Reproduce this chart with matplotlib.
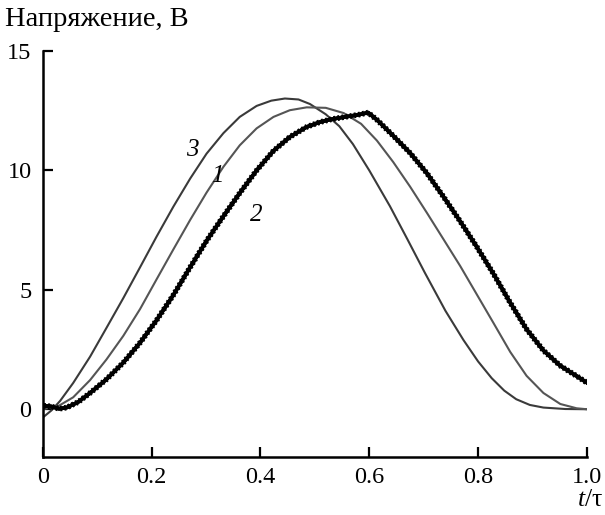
import matplotlib
matplotlib.use("Agg")
import matplotlib.pyplot as plt
import matplotlib.patheffects as pe

# ---- data ----
x3 = [0.0, 0.016, 0.032, 0.056, 0.087, 0.117, 0.148, 0.179, 0.209, 0.240, 0.271, 0.301,
      0.332, 0.362, 0.393, 0.420, 0.445, 0.470, 0.491, 0.520, 0.545, 0.570, 0.600,
      0.638, 0.670, 0.702, 0.740, 0.773, 0.800, 0.825, 0.848, 0.870, 0.895, 0.920, 0.960, 1.0]
y3 = [-0.35, -0.05, 0.35, 1.10, 2.20, 3.40, 4.65, 5.95, 7.22, 8.48, 9.66, 10.70,
      11.56, 12.24, 12.70, 12.92, 13.01, 12.97, 12.78, 12.35, 11.85, 11.10, 10.00,
      8.50, 7.12, 5.72, 4.12, 2.90, 2.00, 1.30, 0.78, 0.42, 0.18, 0.07, 0.01, 0.0]

x1 = [0.0, 0.030, 0.056, 0.087, 0.117, 0.148, 0.179, 0.209, 0.240, 0.271, 0.301,
      0.332, 0.362, 0.393, 0.424, 0.454, 0.485, 0.520, 0.553, 0.585, 0.614, 0.644,
      0.675, 0.706, 0.736, 0.767, 0.797, 0.828, 0.859, 0.889, 0.920, 0.951, 0.981, 1.0]
y1 = [0.0, 0.15, 0.50, 1.22, 2.08, 3.07, 4.20, 5.43, 6.69, 7.93, 9.07,
      10.15, 11.05, 11.76, 12.24, 12.52, 12.64, 12.62, 12.40, 11.95, 11.25, 10.35,
      9.32, 8.22, 7.13, 6.00, 4.83, 3.62, 2.40, 1.40, 0.68, 0.22, 0.04, 0.0]

x2 = [0.0, 0.015, 0.030, 0.044, 0.065, 0.087, 0.117, 0.148, 0.179, 0.209, 0.240,
      0.271, 0.301, 0.332, 0.362, 0.393, 0.424, 0.454, 0.485, 0.509, 0.530, 0.553, 0.580,
      0.598, 0.615, 0.644, 0.675, 0.706, 0.736, 0.767, 0.797, 0.828, 0.859, 0.889,
      0.920, 0.951, 0.981, 1.0]
y2 = [0.15, 0.12, 0.02, 0.07, 0.30, 0.68, 1.25, 1.95, 2.79, 3.72, 4.78,
      5.95, 7.05, 8.08, 9.05, 10.00, 10.82, 11.40, 11.82, 12.02, 12.14, 12.23, 12.33,
      12.42, 12.10, 11.45, 10.73, 9.88, 8.91, 7.87, 6.82, 5.68, 4.46, 3.35,
      2.46, 1.82, 1.39, 1.11]

curve_labels = ["3", "1", "2"]
label_x = [0.274, 0.320, 0.393]
label_y = [10.87, 9.75, 8.15]

xticks = [0, 0.2, 0.4, 0.6, 0.8, 1.0]
xticklabels = ["0", "0.2", "0.4", "0.6", "0.8", "1.0"]
yticks = [0, 5, 10, 15]
yticklabels = ["0", "5", "10", "15"]

ylabel_text = "Напряжение, В"
xlabel_text = "$t$/τ"

# ---- style ----
plt.rcParams["font.family"] = ["Liberation Serif", "DejaVu Serif"]
plt.rcParams["mathtext.fontset"] = "custom"
plt.rcParams["mathtext.rm"] = "Liberation Serif"
plt.rcParams["mathtext.it"] = "Liberation Serif:italic"

fig = plt.figure(figsize=(6.05, 5.15), dpi=100)
ax = fig.add_axes([0.0706, 0.1126, 0.8996, 0.7884])

ax.plot(x3, y3, color="#3a3a3a", lw=1.5, solid_joinstyle="round")
ax.plot(x1, y1, color="#555555", lw=1.5, solid_joinstyle="round")
ax.plot(x2, y2, color="black", lw=2.6,
        path_effects=[pe.withTickedStroke(angle=90, spacing=3.0, length=0.45, linewidth=1.4),
                      pe.withTickedStroke(angle=-90, spacing=3.0, length=0.45, linewidth=1.4),
                      pe.Normal()])

for t, lx, ly in zip(curve_labels, label_x, label_y):
    ax.text(lx, ly, t, fontsize=18, style="italic", ha="center", va="center")

ax.set_xlim(0, 1.0)
ax.set_ylim(-2, 15)
ax.set_xticks(xticks)
ax.set_xticklabels(xticklabels)
ax.set_yticks(yticks)
ax.set_yticklabels(yticklabels)

for s in ["top", "right"]:
    ax.spines[s].set_visible(False)
for s in ["left", "bottom"]:
    ax.spines[s].set_linewidth(1.8)

ax.tick_params(direction="in", length=7, width=1.6, labelsize=17.5, pad=7)
ax.tick_params(axis="y", pad=8)

fig.text(0.008, 0.962, ylabel_text, fontsize=20.5, ha="left", va="center")
fig.text(0.997, 0.008, xlabel_text, fontsize=18.5, ha="right", va="bottom")

fig.savefig("out.png", dpi=100)
